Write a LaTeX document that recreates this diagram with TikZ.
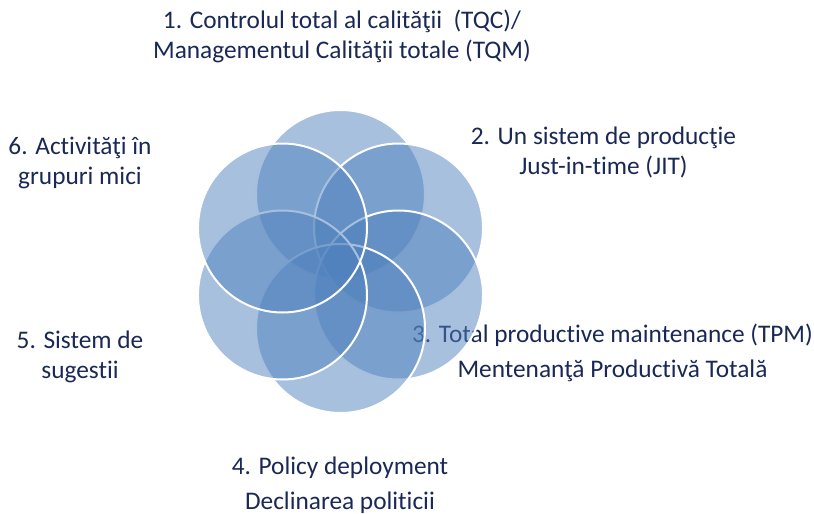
\documentclass[tikz,border=0pt]{standalone}
\usepackage{fontspec}
\setmainfont{Carlito}[Ligatures=NoCommon]
\definecolor{petalblue}{RGB}{79,129,189}
\definecolor{labelnavy}{RGB}{25,40,85}
\begin{document}
\begin{tikzpicture}[
  x=0.75pt, y=-0.75pt,
  petal/.style={circle, minimum size=126.75pt, inner sep=0pt, fill=petalblue, fill opacity=0.5, draw=white, line width=1.5pt},
  lbl/.style={text=labelnavy, align=center, inner sep=0pt, font=\fontsize{19}{22.5}\selectfont}
]
\useasboundingbox (0,0) rectangle (814,514);

% Centre of the flower
\coordinate (hub) at (340.5,261.5);

% Labels (set before the petals, which lie over them)
\node[lbl] (lab1) at (342,36) {1. Controlul total al calităţii~~(TQC)/\\Managementul Calităţii totale (TQM)};
\node[lbl] (lab2) at (603.5,152) {2. Un sistem de producţie\\Just-in-time (JIT)};
\node[lbl] (lab3) at (612.5,353) {3. Total productive maintenance (TPM)\\[4pt]Mentenanţă Productivă Totală};
\node[lbl] (lab4) at (340,485) {4. Policy deployment\\[4pt]Declinarea politicii};
\node[lbl] (lab5) at (80,357) {5. Sistem de\\sugestii};
\node[lbl] (lab6) at (80,163) {6. Activităţi în\\grupuri mici};

% Petals, clockwise from the top
\node[petal] (pet1) at ([shift={(90:50.25pt)}]hub) {};
\node[petal] (pet2) at ([shift={(30:50.25pt)}]hub) {};
\node[petal] (pet3) at ([shift={(-30:50.25pt)}]hub) {};
\node[petal] (pet4) at ([shift={(-90:50.25pt)}]hub) {};
\node[petal] (pet5) at ([shift={(-150:50.25pt)}]hub) {};
\node[petal] (pet6) at ([shift={(150:50.25pt)}]hub) {};
\end{tikzpicture}
\end{document}
